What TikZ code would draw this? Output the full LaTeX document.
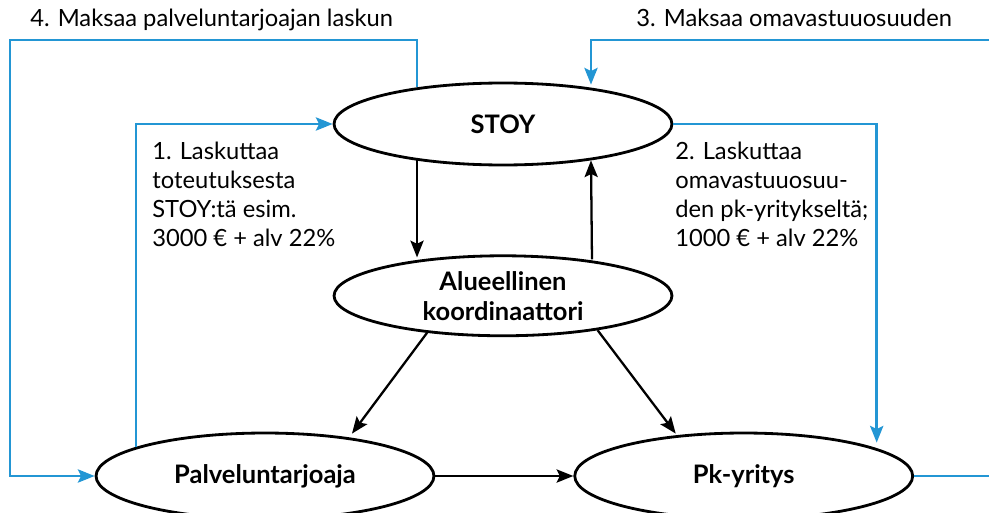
\documentclass[tikz,border=0pt]{standalone}
\usepackage{fontspec}
\setmainfont{Lato}
\usepackage{tikz}
\usetikzlibrary{arrows.meta, positioning, shapes.geometric}
\definecolor{flowblue}{RGB}{35,150,212}

\begin{document}
\begin{tikzpicture}[x=0.02cm, y=-0.02cm,
  ent/.style={ellipse, draw, line width=1.6pt, minimum width=6.76cm, inner sep=0pt, align=center, font=\fontsize{14.5}{17}\selectfont\bfseries},
  note/.style={anchor=north west, inner sep=0pt, align=left, font=\fontsize{13.5}{16.5}\selectfont},
  head/.style={anchor=base west, inner sep=0pt, font=\fontsize{13.5}{16.5}\selectfont},
  arr/.style={-{Stealth[length=9.5pt, width=7.5pt, inset=1.8pt]}, line width=1.3pt},
  flow/.style={arr, line width=1.5pt, color=flowblue}
]
  \useasboundingbox (0,0) rectangle (989,513);
  \clip (0,0) rectangle (989,513);

  \node[ent, minimum height=1.64cm] (stoy) at (503,124) {STOY};
  \node[ent, minimum height=1.6cm, below=1.76cm of stoy] (koord) {Alueellinen \\ koordinaattori};
  \node[ent, minimum height=1.72cm] (palv) at (265,476) {Palveluntarjoaja};
  \node[ent, minimum height=1.72cm, right=2.76cm of palv] (pk) {Pk-yritys};

  \node[head] (lbl4) at (30,27) {4. Maksaa palveluntarjoajan laskun};
  \node[head] (lbl3) at (636,27) {3. Maksaa omavastuuosuuden};
  \node[note] (lbl1) at (152,142) {1. Laskuttaa \\ toteutuksesta \\ STOY:tä esim. \\ 3000 € + alv 22\%};
  \node[note] (lbl2) at (675,142) {2. Laskuttaa \\ omavastuuosuu- \\ den pk-yritykseltä; \\ 1000 € + alv 22\%};

  \coordinate (cornl) at (10,40);
  \coordinate (cornr) at (1000,40);

  % black flows
  \draw[arr] ([xshift=-1.72cm, yshift=0.12cm]stoy.south) -- ([xshift=-1.72cm, yshift=-0.06cm]koord.north);
  \draw[arr] ([xshift=1.78cm, yshift=-0.1cm]koord.north) -- ([xshift=1.76cm, yshift=0.12cm]stoy.south);
  \draw[arr] (koord.206) -- ([xshift=1.74cm, yshift=-0.04cm]palv.north);
  \draw[arr] (koord.340) -- ([xshift=-1.36cm, yshift=-0.04cm]pk.north);
  \draw[arr] (palv.east) -- (pk.west);

  % blue flows
  \draw[flow] ([xshift=-2.58cm, yshift=-0.31cm]palv.north) |- (stoy.west);
  \draw[flow] (stoy.east) -| ([xshift=2.66cm, yshift=-0.22cm]pk.north);
  \draw[flow] (pk.east) -| (cornr) -| ([xshift=1.76cm, yshift=-0.06cm]stoy.north);
  \draw[flow] ([xshift=-1.72cm, yshift=-0.1cm]stoy.north) |- (cornl) |- (palv.west);
\end{tikzpicture}
\end{document}
